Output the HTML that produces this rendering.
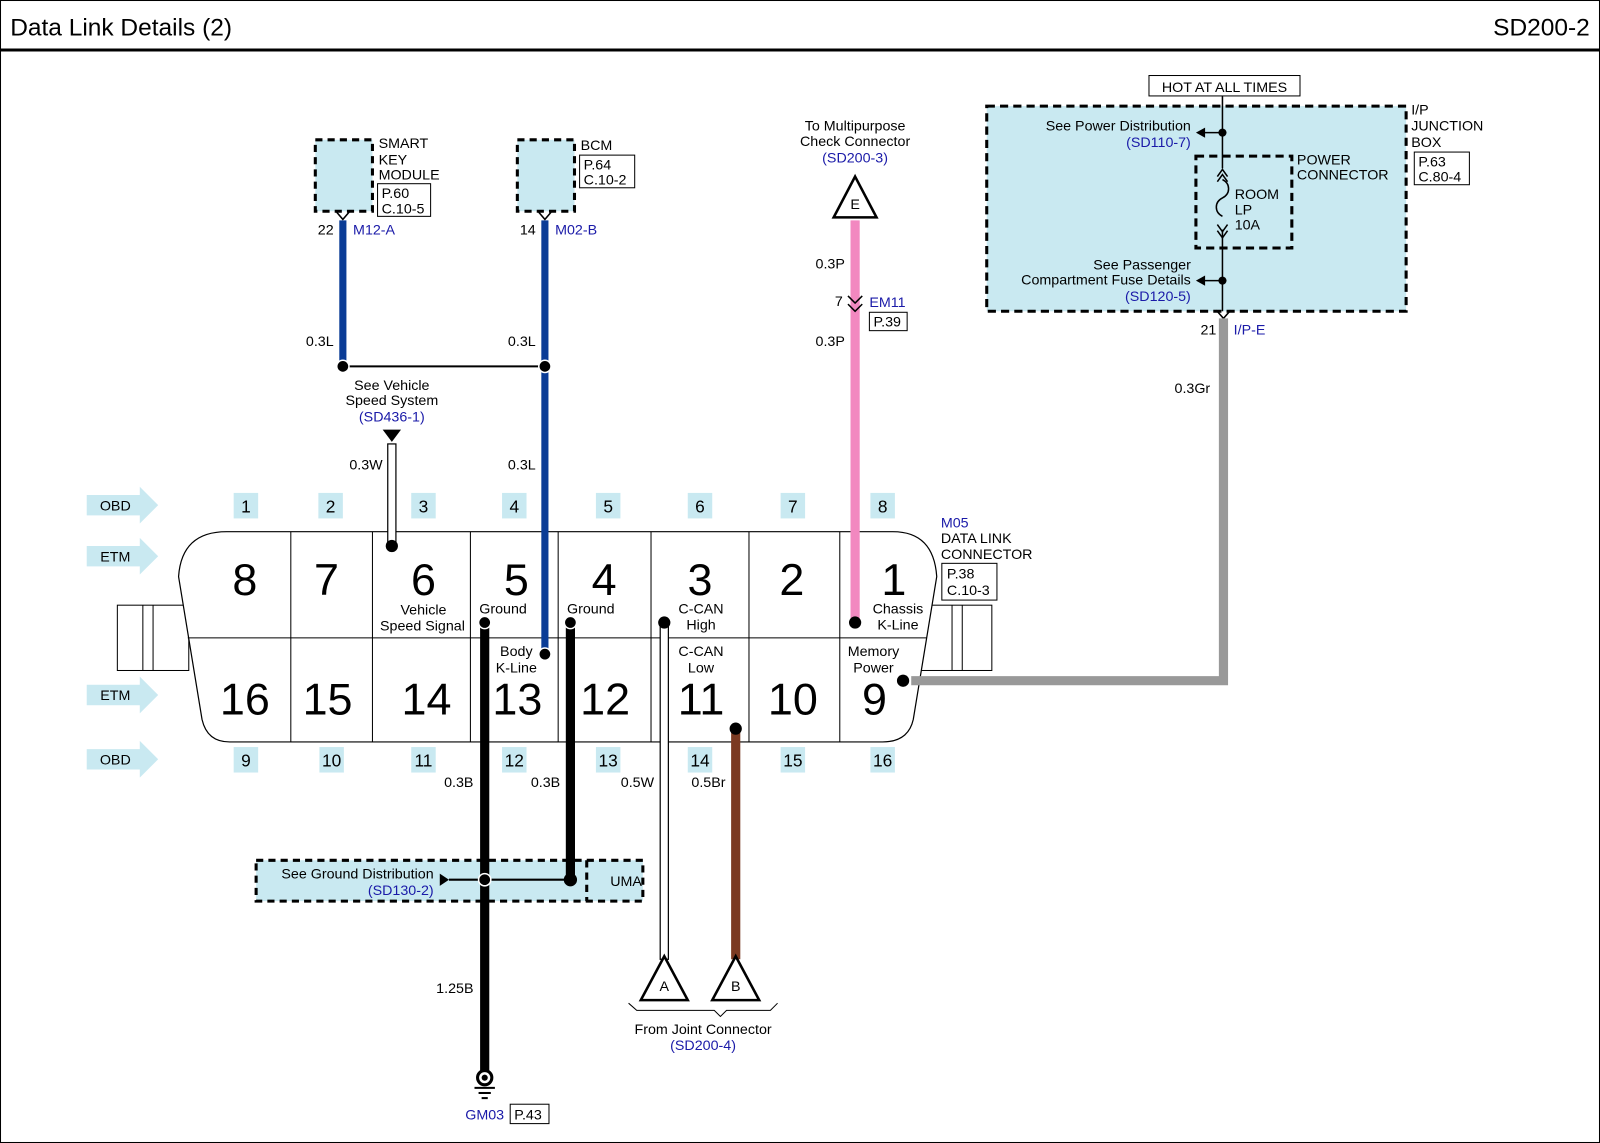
<!DOCTYPE html>
<html><head><meta charset="utf-8"><style>
html,body{margin:0;padding:0;background:#fff;}
svg{display:block;}
text{font-family:"Liberation Sans",sans-serif;fill:#000;}
.b{fill:#1a1aa8;}
</style></head><body>
<svg width="1600" height="1143" viewBox="0 0 1568 1120" preserveAspectRatio="none" xmlns="http://www.w3.org/2000/svg">
<rect x="0.5" y="0.5" width="1567" height="1119" fill="#fff" stroke="#000" stroke-width="1"/>
<text x="10" y="35" font-size="24">Data Link Details (2)</text>
<text x="1558" y="35" font-size="24" text-anchor="end">SD200-2</text>
<line x1="0" y1="49" x2="1568" y2="49" stroke="#000" stroke-width="3"/>

<!-- side tabs -->
<rect x="115" y="593" width="70" height="64" fill="#fff" stroke="#000"/>
<line x1="140" y1="593" x2="140" y2="657" stroke="#000"/><line x1="150" y1="593" x2="150" y2="657" stroke="#000"/>
<rect x="900" y="593" width="72" height="64" fill="#fff" stroke="#000"/>
<line x1="933" y1="593" x2="933" y2="657" stroke="#000"/><line x1="943" y1="593" x2="943" y2="657" stroke="#000"/>

<!-- connector body -->
<path d="M222,521 L875,521 Q915,521 918,565 L895,705 Q890,727 865,727 L225,727 Q203,727 198,705 L175,565 Q178,521 222,521 Z" fill="#fff" stroke="#000" stroke-width="1.2"/>
<g stroke="#000" stroke-width="1">
<line x1="285" y1="521" x2="285" y2="727"/><line x1="365" y1="521" x2="365" y2="727"/><line x1="461" y1="521" x2="461" y2="727"/><line x1="547" y1="521" x2="547" y2="727"/><line x1="638" y1="521" x2="638" y2="727"/><line x1="734" y1="521" x2="734" y2="727"/><line x1="823" y1="521" x2="823" y2="727"/>
<line x1="184" y1="625" x2="908" y2="625"/>
</g>
<g font-size="44" text-anchor="middle">
<text x="240" y="583">8</text><text x="320" y="583">7</text><text x="415" y="583">6</text><text x="506" y="583">5</text><text x="592" y="583">4</text><text x="686" y="583">3</text><text x="776" y="583">2</text><text x="876" y="583">1</text>
<text x="240" y="700">16</text><text x="321" y="700">15</text><text x="418" y="700">14</text><text x="507" y="700">13</text><text x="593" y="700">12</text><text x="687" y="700">11</text><text x="777" y="700">10</text><text x="857" y="700">9</text>
</g>
<g font-size="14" text-anchor="middle">
<text x="415" y="602">Vehicle</text><text x="414" y="618">Speed Signal</text>
<text x="493" y="601">Ground</text><text x="579" y="601">Ground</text>
<text x="687" y="601">C-CAN</text><text x="687" y="617">High</text>
<text x="880" y="601">Chassis</text><text x="880" y="617">K-Line</text>
<text x="506" y="643">Body</text><text x="506" y="659">K-Line</text>
<text x="687" y="643">C-CAN</text><text x="687" y="659">Low</text>
<text x="856" y="643">Memory</text><text x="856" y="659">Power</text>
</g>

<!-- HOT AT ALL TIMES -->
<rect x="1126" y="74" width="148" height="20" fill="#fff" stroke="#000"/>
<text x="1200" y="90" font-size="14" text-anchor="middle">HOT AT ALL TIMES</text>
<rect x="967" y="104" width="411" height="201" fill="#c9e9f1" stroke="#000" stroke-width="3" stroke-dasharray="8,5"/>
<rect x="1172" y="153" width="94" height="90" fill="none" stroke="#000" stroke-width="3" stroke-dasharray="8,5"/>
<line x1="1198" y1="94" x2="1198" y2="165" stroke="#000" stroke-width="1.5"/>
<line x1="1198" y1="225" x2="1198" y2="305" stroke="#000" stroke-width="1.5"/>
<path d="M1198,176 c8,4 8,14 0,18 c-8,4 -8,14 0,18" fill="none" stroke="#000" stroke-width="1.5"/>
<path d="M1193,173 L1198,166 L1203,173 M1193,178 L1198,171 L1203,178" fill="none" stroke="#000" stroke-width="1.5"/>
<path d="M1193,220 L1198,227 L1203,220 M1193,226 L1198,233 L1203,226" fill="none" stroke="#000" stroke-width="1.5"/>
<circle cx="1198" cy="130" r="4"/><circle cx="1198" cy="275" r="4"/>
<line x1="1180" y1="130" x2="1198" y2="130" stroke="#000" stroke-width="1.5"/>
<polygon points="1172,130 1181,125 1181,135"/>
<line x1="1180" y1="275" x2="1198" y2="275" stroke="#000" stroke-width="1.5"/>
<polygon points="1172,275 1181,270 1181,280"/>
<text x="1167" y="128" font-size="14" text-anchor="end">See Power Distribution</text>
<text x="1167" y="144" font-size="14" text-anchor="end" class="b">(SD110-7)</text>
<text x="1167" y="264" font-size="14" text-anchor="end">See Passenger</text>
<text x="1167" y="279" font-size="14" text-anchor="end">Compartment Fuse Details</text>
<text x="1167" y="295" font-size="14" text-anchor="end" class="b">(SD120-5)</text>
<text x="1210" y="195" font-size="14">ROOM</text><text x="1210" y="210" font-size="14">LP</text><text x="1210" y="225" font-size="14">10A</text>
<text x="1271" y="161" font-size="14">POWER</text><text x="1271" y="176" font-size="14">CONNECTOR</text>
<text x="1383" y="112" font-size="14">I/P</text><text x="1383" y="128" font-size="14">JUNCTION</text><text x="1383" y="144" font-size="14">BOX</text>
<rect x="1386" y="149" width="54" height="32" fill="#fff" stroke="#000"/>
<text x="1390" y="163" font-size="14">P.63</text><text x="1390" y="178" font-size="14">C.80-4</text>
<path d="M1192,304 L1199,312 L1206,304" fill="none" stroke="#000" stroke-width="1.5"/>
<text x="1192" y="328" font-size="14" text-anchor="end">21</text>
<text x="1209" y="328" font-size="14" class="b">I/P-E</text>
<text x="1186" y="385" font-size="14" text-anchor="end">0.3Gr</text>
<path d="M1199,312 L1199,667 L893,667" fill="none" stroke="#999" stroke-width="9"/>

<!-- Smart key / BCM -->
<rect x="309" y="137" width="56" height="70" fill="#c9e9f1" stroke="#000" stroke-width="3" stroke-dasharray="7,5"/>
<rect x="507" y="137" width="56" height="70" fill="#c9e9f1" stroke="#000" stroke-width="3" stroke-dasharray="7,5"/>
<text x="371" y="145" font-size="14">SMART</text><text x="371" y="161" font-size="14">KEY</text><text x="371" y="176" font-size="14">MODULE</text>
<rect x="370" y="180" width="52" height="32" fill="#fff" stroke="#000"/>
<text x="374" y="194" font-size="14">P.60</text><text x="374" y="209" font-size="14">C.10-5</text>
<text x="569" y="147" font-size="14">BCM</text>
<rect x="568" y="152" width="54" height="32" fill="#fff" stroke="#000"/>
<text x="572" y="166" font-size="14">P.64</text><text x="572" y="181" font-size="14">C.10-2</text>
<path d="M330,208 L336,215 L342,208" fill="none" stroke="#000" stroke-width="1.5"/>
<path d="M528,208 L534,215 L540,208" fill="none" stroke="#000" stroke-width="1.5"/>
<text x="327" y="230" font-size="14" text-anchor="end">22</text><text x="346" y="230" font-size="14" class="b">M12-A</text>
<text x="525" y="230" font-size="14" text-anchor="end">14</text><text x="544" y="230" font-size="14" class="b">M02-B</text>
<line x1="336" y1="216" x2="336" y2="359" stroke="#0a3c96" stroke-width="7"/>
<line x1="534" y1="216" x2="534" y2="641" stroke="#0a3c96" stroke-width="7"/>
<line x1="336" y1="359" x2="534" y2="359" stroke="#000" stroke-width="2"/>
<circle cx="336" cy="359" r="6" stroke="#fff" stroke-width="1.5"/><circle cx="534" cy="359" r="6" stroke="#fff" stroke-width="1.5"/>
<text x="327" y="339" font-size="14" text-anchor="end">0.3L</text>
<text x="525" y="339" font-size="14" text-anchor="end">0.3L</text>
<text x="525" y="460" font-size="14" text-anchor="end">0.3L</text>
<text x="384" y="382" font-size="14" text-anchor="middle">See Vehicle</text>
<text x="384" y="397" font-size="14" text-anchor="middle">Speed System</text>
<text x="384" y="413" font-size="14" text-anchor="middle" class="b">(SD436-1)</text>
<polygon points="375,421 393,421 384,433"/>
<rect x="380" y="435" width="8" height="100" fill="#fff" stroke="#000" stroke-width="1.2"/>
<text x="375" y="460" font-size="14" text-anchor="end">0.3W</text>

<!-- E / pink -->
<text x="838" y="128" font-size="14" text-anchor="middle">To Multipurpose</text>
<text x="838" y="143" font-size="14" text-anchor="middle">Check Connector</text>
<text x="838" y="159" font-size="14" text-anchor="middle" class="b">(SD200-3)</text>
<polygon points="838,173 859,213 817,213" fill="#fff" stroke="#000" stroke-width="2.5"/>
<text x="838" y="205" font-size="14" text-anchor="middle">E</text>
<line x1="838" y1="216" x2="838" y2="610" stroke="#f288c0" stroke-width="9"/>
<path d="M831,290 L838,297 L845,290 M831,298 L838,305 L845,298" fill="none" stroke="#000" stroke-width="1.5"/>
<text x="828" y="263" font-size="14" text-anchor="end">0.3P</text>
<text x="826" y="300" font-size="14" text-anchor="end">7</text>
<text x="852" y="301" font-size="14" class="b">EM11</text>
<rect x="852" y="306" width="37" height="18" fill="#fff" stroke="#000"/>
<text x="856" y="320" font-size="14">P.39</text>
<text x="828" y="339" font-size="14" text-anchor="end">0.3P</text>

<text x="922" y="517" font-size="14" class="b">M05</text>
<text x="922" y="532" font-size="14">DATA LINK</text><text x="922" y="548" font-size="14">CONNECTOR</text>
<rect x="923" y="552" width="54" height="36" fill="#fff" stroke="#000"/>
<text x="928" y="567" font-size="14">P.38</text><text x="928" y="583" font-size="14">C.10-3</text>

<!-- pin number boxes -->
<g fill="#c9e9f1">
<rect x="229" y="483" width="24" height="25"/><rect x="312" y="483" width="24" height="25"/><rect x="403" y="483" width="24" height="25"/><rect x="492" y="483" width="24" height="25"/><rect x="584" y="483" width="24" height="25"/><rect x="674" y="483" width="24" height="25"/><rect x="765" y="483" width="24" height="25"/><rect x="853" y="483" width="24" height="25"/>
<rect x="229" y="732" width="24" height="25"/><rect x="313" y="732" width="24" height="25"/><rect x="403" y="732" width="24" height="25"/><rect x="492" y="732" width="24" height="25"/><rect x="584" y="732" width="24" height="25"/><rect x="674" y="732" width="24" height="25"/><rect x="765" y="732" width="24" height="25"/><rect x="853" y="732" width="24" height="25"/>
</g>
<g font-size="17" text-anchor="middle">
<text x="241" y="502">1</text><text x="324" y="502">2</text><text x="415" y="502">3</text><text x="504" y="502">4</text><text x="596" y="502">5</text><text x="686" y="502">6</text><text x="777" y="502">7</text><text x="865" y="502">8</text>
<text x="241" y="751">9</text><text x="325" y="751">10</text><text x="415" y="751">11</text><text x="504" y="751">12</text><text x="596" y="751">13</text><text x="686" y="751">14</text><text x="777" y="751">15</text><text x="865" y="751">16</text>
</g>
<!-- side arrows -->
<g fill="#c9e9f1">
<polygon points="85,485 137,485 137,477 155,495 137,513 137,505 85,505"/>
<polygon points="85,535 137,535 137,527 155,545 137,563 137,555 85,555"/>
<polygon points="85,671 137,671 137,663 155,681 137,699 137,691 85,691"/>
<polygon points="85,734 137,734 137,726 155,744 137,762 137,754 85,754"/>
</g>
<g font-size="14" text-anchor="middle">
<text x="113" y="500">OBD</text><text x="113" y="550">ETM</text><text x="113" y="686">ETM</text><text x="113" y="749">OBD</text>
</g>

<!-- pin dots / lower wires -->
<circle cx="384" cy="535" r="6"/>
<circle cx="838" cy="610" r="6"/>
<circle cx="885" cy="667" r="6"/>
<rect x="647" y="612" width="8" height="328" fill="#fff" stroke="#000" stroke-width="1.2"/>
<circle cx="651" cy="610" r="6"/>
<line x1="721" y1="716" x2="721" y2="940" stroke="#7b3a22" stroke-width="9"/>
<circle cx="721" cy="714" r="6"/>
<circle cx="534" cy="641" r="6" stroke="#fff" stroke-width="1.5"/>

<!-- ground box -->
<rect x="251" y="843" width="379" height="40" fill="#c9e9f1" stroke="#000" stroke-width="3" stroke-dasharray="7,5"/>
<line x1="575" y1="843" x2="575" y2="883" stroke="#000" stroke-width="3" stroke-dasharray="7,5"/>
<text x="598" y="868" font-size="14">UMA</text>
<text x="425" y="861" font-size="14" text-anchor="end">See Ground Distribution</text>
<text x="425" y="877" font-size="14" text-anchor="end" class="b">(SD130-2)</text>
<line x1="475" y1="612" x2="475" y2="1050" stroke="#000" stroke-width="9"/>
<line x1="559" y1="612" x2="559" y2="862" stroke="#000" stroke-width="9"/>
<circle cx="475" cy="610" r="6" stroke="#fff" stroke-width="1.5"/><circle cx="559" cy="610" r="6" stroke="#fff" stroke-width="1.5"/>
<line x1="440" y1="862" x2="559" y2="862" stroke="#000" stroke-width="2"/>
<polygon points="440,862 431,856 431,868"/>
<circle cx="475" cy="862" r="6" stroke="#fff" stroke-width="1.5"/><circle cx="559" cy="862" r="6" stroke="#000"/>
<text x="464" y="771" font-size="14" text-anchor="end">0.3B</text>
<text x="549" y="771" font-size="14" text-anchor="end">0.3B</text>
<text x="641" y="771" font-size="14" text-anchor="end">0.5W</text>
<text x="711" y="771" font-size="14" text-anchor="end">0.5Br</text>
<text x="464" y="973" font-size="14" text-anchor="end">1.25B</text>
<circle cx="475" cy="1056" r="7" fill="#fff" stroke="#000" stroke-width="3"/><circle cx="475" cy="1056" r="3"/>
<line x1="465" y1="1066" x2="485" y2="1066" stroke="#000" stroke-width="2"/>
<line x1="469" y1="1071" x2="481" y2="1071" stroke="#000" stroke-width="2"/>
<line x1="472" y1="1076" x2="478" y2="1076" stroke="#000" stroke-width="2"/>
<text x="494" y="1097" font-size="14" text-anchor="end" class="b">GM03</text>
<rect x="500" y="1082" width="38" height="19" fill="#fff" stroke="#000"/>
<text x="504" y="1097" font-size="14">P.43</text>

<!-- A / B -->
<polygon points="651,937 674,980 628,980" fill="#fff" stroke="#000" stroke-width="2.5"/>
<polygon points="721,937 744,980 698,980" fill="#fff" stroke="#000" stroke-width="2.5"/>
<text x="651" y="971" font-size="14" text-anchor="middle">A</text>
<text x="721" y="971" font-size="14" text-anchor="middle">B</text>
<path d="M616,983 L624,990 L700,990 L706,996 L712,990 L755,990 L762,983" fill="none" stroke="#000" stroke-width="1"/>
<text x="689" y="1013" font-size="14" text-anchor="middle">From Joint Connector</text>
<text x="689" y="1029" font-size="14" text-anchor="middle" class="b">(SD200-4)</text>
</svg>
</body></html>
